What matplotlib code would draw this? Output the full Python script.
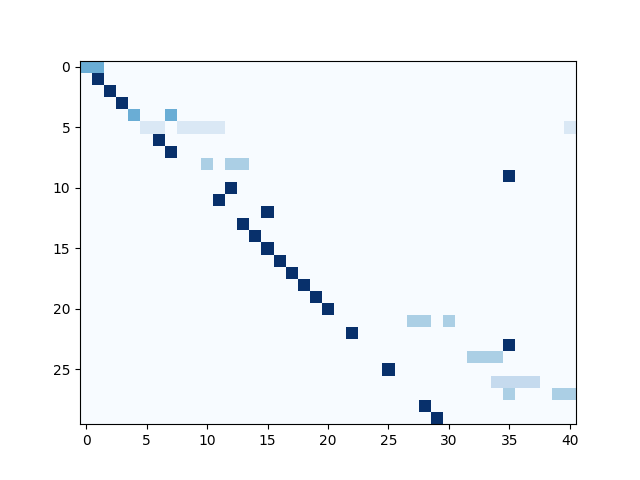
import numpy as np
import matplotlib
matplotlib.use('Agg')
import matplotlib.pyplot as plt

n_rows = 30
n_cols = 41

# attended columns for each output row, and the weight shown in each cell
row_cols = [
    [0, 1], [1], [2], [3], [4, 7],
    [5, 6, 8, 9, 10, 11, 40], [6], [7], [10, 12, 13], [35],
    [12], [11], [15], [13], [14],
    [15], [16], [17], [18], [19],
    [20], [27, 28, 30], [22], [35], [32, 33, 34],
    [25], [34, 35, 36, 37], [35, 39, 40], [28], [29],
]
row_weights = [
    [0.5, 0.5], [1.0], [1.0], [1.0], [0.5, 0.5],
    [0.143] * 7, [1.0], [1.0], [0.333] * 3, [1.0],
    [1.0], [1.0], [1.0], [1.0], [1.0],
    [1.0], [1.0], [1.0], [1.0], [1.0],
    [1.0], [0.333] * 3, [1.0], [1.0], [0.333] * 3,
    [1.0], [0.25] * 4, [0.333] * 3, [1.0], [1.0],
]

def main():
    attn = np.zeros((n_rows, n_cols))
    for r, (cols, ws) in enumerate(zip(row_cols, row_weights)):
        attn[r, cols] = ws

    fig = plt.figure(figsize=(6.4, 4.8), dpi=100)
    plt.imshow(attn, cmap='Blues')
    plt.savefig('out.png')

if __name__ == '__main__':
    main()
